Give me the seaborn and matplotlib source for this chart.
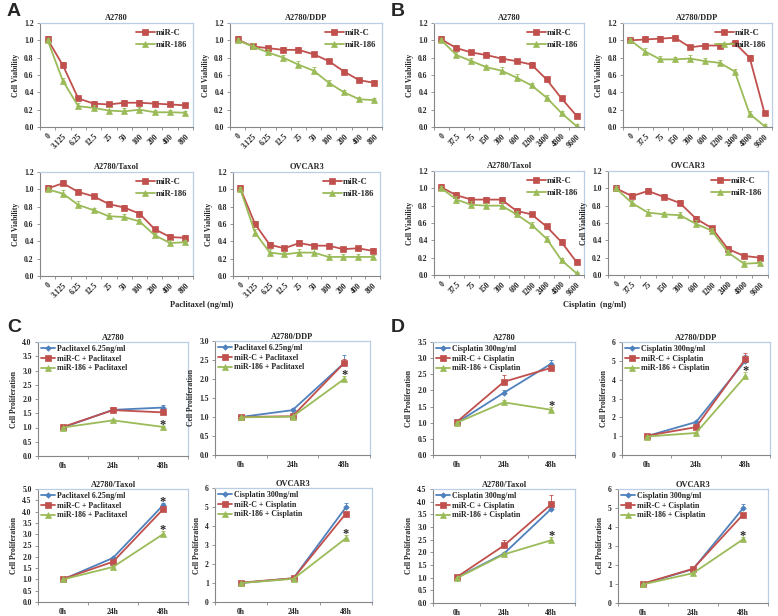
import numpy as np
import pandas as pd
import matplotlib
matplotlib.use("Agg")
import matplotlib.pyplot as plt
import seaborn as sns

sns.set_style("ticks")
plt.rcParams["font.family"] = ["Liberation Serif", "DejaVu Serif"]
plt.rcParams["font.weight"] = "bold"
plt.rcParams["axes.unicode_minus"] = False

RED = "#c0504d"
GREEN = "#9bbb59"
BLUE = "#4f81bd"

# x categories
doses_pac = ["0", "3.125", "6.25", "12.5", "25", "50", "100", "200", "400", "800"]
doses_cis = ["0", "37.5", "75", "150", "300", "600", "1200", "2400", "4800", "9600"]
hours = ["0h", "24h", "48h"]

# A: cell viability vs paclitaxel
pac_a2780_c = [1.01, 0.71, 0.33, 0.27, 0.26, 0.28, 0.28, 0.27, 0.26, 0.25]
pac_a2780_186 = [1.00, 0.53, 0.24, 0.22, 0.19, 0.18, 0.20, 0.17, 0.17, 0.165]
pac_ddp_c = [1.01, 0.93, 0.91, 0.89, 0.89, 0.84, 0.76, 0.64, 0.54, 0.51]
pac_ddp_186 = [1.00, 0.93, 0.86, 0.80, 0.72, 0.65, 0.51, 0.40, 0.32, 0.31]
pac_taxol_c = [1.01, 1.07, 0.97, 0.92, 0.83, 0.79, 0.72, 0.54, 0.45, 0.44]
pac_taxol_186 = [1.00, 0.95, 0.82, 0.76, 0.69, 0.68, 0.63, 0.47, 0.38, 0.39]
pac_ovcar_c = [1.01, 0.60, 0.36, 0.32, 0.38, 0.35, 0.35, 0.31, 0.32, 0.29]
pac_ovcar_186 = [1.00, 0.50, 0.27, 0.25, 0.27, 0.27, 0.22, 0.22, 0.22, 0.22]

# B: cell viability vs cisplatin
cis_a2780_c = [1.01, 0.91, 0.86, 0.83, 0.79, 0.76, 0.72, 0.55, 0.33, 0.13]
cis_a2780_186 = [1.00, 0.83, 0.76, 0.69, 0.65, 0.57, 0.48, 0.34, 0.16, 0.01]
cis_ddp_c = [1.00, 1.01, 1.02, 1.03, 0.92, 0.94, 0.94, 0.97, 0.80, 0.16]
cis_ddp_186 = [1.00, 0.87, 0.78, 0.78, 0.79, 0.76, 0.74, 0.64, 0.15, 0.01]
cis_taxol_c = [1.01, 0.92, 0.87, 0.87, 0.87, 0.74, 0.70, 0.56, 0.38, 0.15]
cis_taxol_186 = [1.00, 0.87, 0.81, 0.80, 0.80, 0.70, 0.58, 0.42, 0.17, 0.02]
cis_ovcar_c = [1.00, 0.91, 0.97, 0.90, 0.83, 0.65, 0.54, 0.30, 0.22, 0.20]
cis_ovcar_186 = [1.00, 0.83, 0.72, 0.70, 0.69, 0.59, 0.51, 0.26, 0.13, 0.14]

# error bars (upper only) for A/B
err_c = [0.04, 0.04, 0.03, 0.03, 0.03, 0.03, 0.03, 0.03, 0.03, 0.03]
err_186 = [0.03, 0.04, 0.04, 0.03, 0.04, 0.04, 0.03, 0.03, 0.03, 0.02]

# C: proliferation with paclitaxel (blue, red, green)
pc_a2780 = [[1.00, 1.62, 1.70], [1.02, 1.61, 1.53], [1.00, 1.25, 1.02]]
pc_a2780_err = [[0.02, 0.10, 0.08], [0.03, 0.12, 0.05], [0.02, 0.05, 0.05]]
pc_ddp = [[1.00, 1.18, 2.42], [1.00, 1.02, 2.42], [0.99, 1.01, 2.00]]
pc_ddp_err = [[0.03, 0.05, 0.20], [0.03, 0.03, 0.10], [0.02, 0.02, 0.08]]
pc_taxol = [[1.00, 1.95, 4.28], [1.02, 1.78, 4.10], [1.00, 1.55, 3.00]]
pc_taxol_err = [[0.02, 0.05, 0.10], [0.03, 0.05, 0.10], [0.02, 0.05, 0.15]]
pc_ovcar = [[1.00, 1.25, 4.98], [1.02, 1.25, 4.65], [1.00, 1.22, 3.35]]
pc_ovcar_err = [[0.02, 0.05, 0.25], [0.03, 0.05, 0.10], [0.02, 0.05, 0.20]]

# D: proliferation with cisplatin
dc_a2780 = [[1.00, 1.93, 2.83], [1.02, 2.27, 2.70], [1.00, 1.63, 1.40]]
dc_a2780_err = [[0.02, 0.08, 0.12], [0.03, 0.20, 0.05], [0.02, 0.08, 0.08]]
dc_ddp = [[1.00, 1.75, 5.00], [1.02, 1.48, 5.10], [0.98, 1.17, 4.18]]
dc_ddp_err = [[0.02, 0.05, 0.30], [0.03, 0.10, 0.30], [0.02, 0.05, 0.25]]
dc_taxol = [[1.00, 1.95, 3.72], [1.02, 2.27, 3.90], [0.98, 1.92, 2.48]]
dc_taxol_err = [[0.02, 0.05, 0.05], [0.03, 0.20, 0.35], [0.02, 0.05, 0.12]]
dc_ovcar = [[1.00, 1.78, 4.98], [1.02, 1.80, 4.65], [0.98, 1.57, 3.35]]
dc_ovcar_err = [[0.02, 0.05, 0.25], [0.03, 0.10, 0.10], [0.02, 0.05, 0.15]]

leg_pac = ["Paclitaxel 6.25ng/ml", "miR-C + Paclitaxel", "miR-186 + Paclitaxel"]
leg_cis = ["Cisplatin 300ng/ml", "miR-C + Cisplatin", "miR-186 + Cisplatin"]

W, H = 778, 616
fig = plt.figure(figsize=(W / 100, H / 100), dpi=100)


def box(x0, y0, x1, y1):
    return fig.add_axes([x0 / W, 1 - y1 / H, (x1 - x0) / W, (y1 - y0) / H])


def style_axes(ax, n, labels, rot):
    for s in ["top", "right"]:
        ax.spines[s].set_visible(True)
        ax.spines[s].set_color("#b9cde5")
        ax.spines[s].set_linewidth(0.9)
    for s in ["left", "bottom"]:
        ax.spines[s].set_color("#868686")
        ax.spines[s].set_linewidth(0.8)
    ax.set_xlim(-0.5, n - 0.5)
    ax.set_xticks(np.arange(n))
    ax.set_xticks(np.arange(n + 1) - 0.5, minor=True)
    if rot:
        ax.set_xticklabels(labels, rotation=45, ha="right", rotation_mode="anchor")
    else:
        ax.set_xticklabels(labels)
    ax.tick_params(axis="x", which="major", length=0, labelsize=5.5, pad=4)
    ax.tick_params(axis="x", which="minor", length=2.5, width=0.6, color="#868686", direction="out")
    ax.tick_params(axis="y", length=2.5, width=0.6, color="#868686", direction="out",
                   labelsize=5.5, pad=2)
    ax.set_xlabel("")


def series(ax, vals, errs, color, marker, ms, label):
    pos = np.arange(len(vals))
    sns.lineplot(x=pos, y=vals, color=color, marker=marker, markersize=ms,
                 markeredgecolor=color, markeredgewidth=0.5, linewidth=1.3,
                 label=label, ax=ax, legend=False)
    ax.errorbar(pos, vals, yerr=[np.zeros(len(vals)), errs], fmt="none",
                ecolor=color, elinewidth=0.6, capsize=1.5, capthick=0.6)


def viability(ax, title, labels, c, m):
    series(ax, c, err_c, RED, "s", 4.2, "miR-C")
    series(ax, m, err_186, GREEN, "^", 4.0, "miR-186")
    style_axes(ax, len(labels), labels, True)
    ax.set_ylim(0, 1.2)
    ax.set_yticks(np.arange(0, 1.21, 0.2))
    ax.set_yticklabels([f"{v:.1f}" for v in np.arange(0, 1.21, 0.2)])
    ax.set_title(title, fontsize=6, fontweight="bold", pad=2)
    ax.set_ylabel("Cell Viability", fontsize=5.5, fontweight="bold", labelpad=3)
    ax.legend(loc="upper right", frameon=False, fontsize=6.2, handlelength=2.2,
              labelspacing=0.45, borderaxespad=0.3, handletextpad=0.1)


def proliferation(ax, title, vals, errs, legend, ymax, step, stars):
    colors = [BLUE, RED, GREEN]
    markers = ["D", "s", "^"]
    sizes = [2.8, 4.2, 4.0]
    for v, e, col, mk, sz, lab in zip(vals, errs, colors, markers, sizes, legend):
        series(ax, v, e, col, mk, sz, lab)
    style_axes(ax, 3, hours, False)
    ticks = np.arange(0, ymax + step / 2, step)
    ax.set_ylim(0, ymax)
    ax.set_yticks(ticks)
    if step >= 1:
        ax.set_yticklabels([f"{t:.0f}" for t in ticks])
    else:
        ax.set_yticklabels([f"{t:.1f}" for t in ticks])
    ax.set_title(title, fontsize=6, fontweight="bold", pad=1)
    ax.set_ylabel("Cell Proliferation", fontsize=5.5, fontweight="bold", labelpad=3)
    ax.legend(loc="upper left", frameon=False, fontsize=5.7, handlelength=1.8,
              labelspacing=0.2, borderaxespad=0.1, handletextpad=0.15,
              borderpad=0.3)
    for i in stars:
        ax.annotate("*", (2, vals[i][2] + errs[i][2]), xytext=(0, -1.5),
                    textcoords="offset points", ha="center", va="baseline",
                    fontsize=9, fontweight="bold")


# panel A
viability(box(40, 23, 193, 127), "A2780", doses_pac, pac_a2780_c, pac_a2780_186)
viability(box(230, 23, 382, 127), "A2780/DDP", doses_pac, pac_ddp_c, pac_ddp_186)
viability(box(40, 172, 193, 276), "A2780/Taxol", doses_pac, pac_taxol_c, pac_taxol_186)
viability(box(233, 172, 380, 276), "OVCAR3", doses_pac, pac_ovcar_c, pac_ovcar_186)

# panel B
viability(box(434, 23, 584, 127), "A2780", doses_cis, cis_a2780_c, cis_a2780_186)
viability(box(623, 23, 772, 127), "A2780/DDP", doses_cis, cis_ddp_c, cis_ddp_186)
viability(box(434, 171, 584, 275), "A2780/Taxol", doses_cis, cis_taxol_c, cis_taxol_186)
viability(box(608, 171, 768, 275), "OVCAR3", doses_cis, cis_ovcar_c, cis_ovcar_186)

fig.text(202 / W, 1 - 305 / H, "Paclitaxel (ng/ml)", ha="center", va="center",
         fontsize=6, fontweight="bold")
fig.text(595 / W, 1 - 305 / H, "Cisplatin  (ng/ml)", ha="center", va="center",
         fontsize=6, fontweight="bold")

# panel C
proliferation(box(38, 342, 188, 456), "A2780", pc_a2780, pc_a2780_err, leg_pac, 4.0, 0.5, [2])
proliferation(box(215, 341, 370, 455), "A2780/DDP", pc_ddp, pc_ddp_err, leg_pac, 3.0, 0.5, [2])
proliferation(box(38, 489, 188, 602), "A2780/Taxol", pc_taxol, pc_taxol_err, leg_pac, 5.0, 0.5, [0, 2])
proliferation(box(215, 488, 372, 602), "OVCAR3", pc_ovcar, pc_ovcar_err, leg_cis, 6, 1, [2])

# panel D
proliferation(box(433, 342, 575, 455), "A2780", dc_a2780, dc_a2780_err, leg_cis, 3.5, 0.5, [2])
proliferation(box(622, 342, 770, 455), "A2780/DDP", dc_ddp, dc_ddp_err, leg_cis, 6, 1, [2])
proliferation(box(433, 489, 575, 603), "A2780/Taxol", dc_taxol, dc_taxol_err, leg_cis, 4.5, 0.5, [2])
proliferation(box(618, 489, 768, 603), "OVCAR3", dc_ovcar, dc_ovcar_err, leg_cis, 6, 1, [2])

for letter, x, y in [("A", 14, 12), ("B", 398, 12), ("C", 14, 328), ("D", 398, 328)]:
    fig.text(x / W, 1 - y / H, letter, ha="center", va="center", fontsize=14,
             fontweight="bold", family=["Liberation Sans", "DejaVu Sans"])

fig.savefig("out.png", dpi=100)
plt.close(fig)
